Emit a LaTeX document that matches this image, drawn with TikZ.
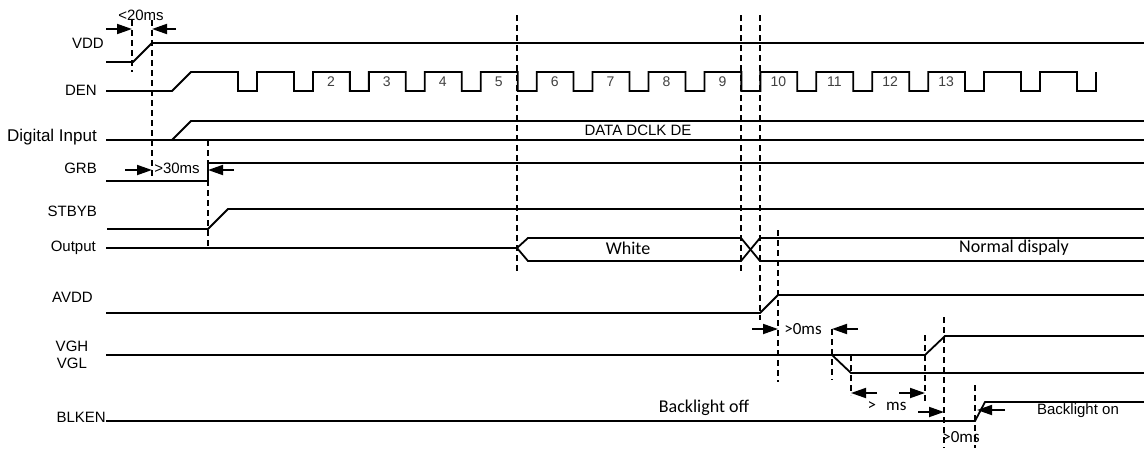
\documentclass[tikz,border=0pt]{standalone}
\usepackage{fontspec}
\setmainfont{Liberation Sans}
\newfontfamily\calfont{Carlito}
\usetikzlibrary{arrows.meta}
\begin{document}
\begin{tikzpicture}[x=1pt,y=-1pt,
  sig/.style={line width=1.8pt},
  dsh/.style={line width=1.8pt, dash pattern=on 6pt off 4pt},
  arr/.style={line width=1.8pt,-{Triangle[length=15pt,width=10pt]}},
  lbl/.style={font=\fontsize{15}{17}\selectfont, inner sep=0pt},
  cal/.style={font=\calfont\fontsize{17}{19}\selectfont, inner sep=0pt},
  calbig/.style={font=\calfont\fontsize{18}{20}\selectfont, inner sep=0pt},
  num/.style={font=\fontsize{14}{16}\selectfont, inner sep=0pt, text=black!75}]
\useasboundingbox (0,0) rectangle (1144,448);
% signal labels
\node[lbl,anchor=east] (lvdd) at (104,43) {VDD};
\node[lbl,anchor=east] (lden) at (97,90) {DEN};
\node[lbl,anchor=east,font=\fontsize{17}{19}\selectfont] (ldi) at (97,137) {Digital Input};
\node[lbl,anchor=east] (lgrb) at (97,168) {GRB};
\node[lbl,anchor=east] (lstb) at (97,211) {STBYB};
\node[lbl,anchor=east] (lout) at (96,248) {Output};
\node[lbl,anchor=east] (lavdd) at (93,297) {AVDD};
\node[lbl] (lvgh) at (72,346) {VGH};
\node[lbl] (lvgl) at (72,363) {VGL};
\node[lbl,anchor=east] (lblk) at (106,417) {BLKEN};
% VDD
\draw[sig] (106,62) -- (133,62) -- (152,43) -- (1144,43);
% DEN
\draw[sig] (106,91) -- (172,91) -- (191,72)
  \foreach \k in {0,...,15} { -- ({238+55.93*\k},72) -- ++(0,19) -- ++(19,0) -- ++(0,-19) };
\foreach \n in {2,...,13} {
  \node[num] (n\n) at ({257+55.93*(\n-1)+18},82) {\n};
}
% Digital input
\draw[sig] (106,140) -- (1144,140);
\draw[sig] (172,140) -- (191,121) -- (1144,121);
\node[lbl] (data) at (638,130) {DATA DCLK DE};
% GRB
\draw[sig] (106,181) -- (208,181) -- (208,163) -- (1144,163);
% STBYB
\draw[sig] (107,229) -- (208,229) -- (228,209) -- (1144,209);
% Output
\draw[sig] (106,248) -- (517,248) -- (528,238) -- (741,238) -- (760,261) -- (1144,261);
\draw[sig] (517,248) -- (528,261) -- (741,261) -- (760,238) -- (1144,238);
\node[calbig] (white) at (628,248) {White};
\node[calbig] (normal) at (1014,248) {Normal dispaly};
% AVDD
\draw[sig] (106,313) -- (760,313) -- (778,295) -- (1144,295);
% VGH / VGL
\draw[sig] (106,355) -- (925,355) -- (945,336) -- (1144,336);
\draw[sig] (832,355) -- (851,373) -- (1144,373);
% BLKEN
\draw[sig] (106,421) -- (975,421) -- (985,402) -- (1144,402);
\node[calbig] (bloff) at (704,408) {Backlight off};
\node[lbl] (blon) at (1078,411) {Backlight on};
% dashed markers
\draw[dsh] (132,20) -- (132,72);
\draw[dsh] (152,20) -- (152,182);
\draw[dsh] (208,140) -- (208,248);
\draw[dsh] (517,15) -- (517,274);
\draw[dsh] (741,15) -- (741,274);
\draw[dsh] (760,15) -- (760,320);
\draw[dsh] (778,230) -- (778,382);
\draw[dsh] (832,329) -- (832,380);
\draw[dsh] (851,355) -- (851,395);
\draw[dsh] (925,335) -- (925,402);
\draw[dsh] (944,317) -- (944,448);
\draw[dsh] (975,385) -- (975,448);
% timing arrows and texts
\coordinate (a1s) at (106,29); \coordinate (a1e) at (132,29);
\coordinate (a2s) at (176,29); \coordinate (a2e) at (152,29);
\draw[arr] (a1s) -- (a1e); \draw[arr] (a2s) -- (a2e);
\node[lbl] (t20) at (141,15) {<20ms};
\coordinate (b1s) at (125,170); \coordinate (b1e) at (152,170);
\coordinate (b2s) at (234,170); \coordinate (b2e) at (208,170);
\draw[arr] (b1s) -- (b1e); \draw[arr] (b2s) -- (b2e);
\node[lbl] (t30) at (177,168) {>30ms};
\coordinate (c1s) at (752,329); \coordinate (c1e) at (778,329);
\coordinate (c2s) at (858,329); \coordinate (c2e) at (832,329);
\draw[arr] (c1s) -- (c1e); \draw[arr] (c2s) -- (c2e);
\node[cal] (t0a) at (803,329) {>0ms};
\coordinate (d1s) at (877,393); \coordinate (d1e) at (851,393);
\coordinate (d2s) at (899,393); \coordinate (d2e) at (925,393);
\draw[arr] (d1s) -- (d1e); \draw[arr] (d2s) -- (d2e);
\node[cal] (tms) at (887,406) {>\hspace{0.6em}ms};
\coordinate (e1s) at (918,412); \coordinate (e1e) at (944,412);
\draw[arr] (e1s) -- (e1e);
\node[cal] (t0b) at (961,437) {>0ms};
\coordinate (f1s) at (1005,410); \coordinate (f1e) at (977,410);
\draw[arr] (f1s) -- (f1e);
\end{tikzpicture}
\end{document}
